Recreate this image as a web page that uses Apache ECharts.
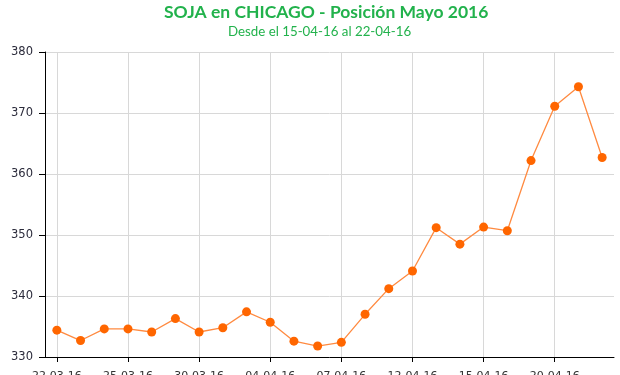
<!DOCTYPE html>
<html>
<head>
<meta charset="utf-8">
<script src="https://cdn.jsdelivr.net/npm/echarts@6/dist/echarts.min.js"></script>
<style>html,body{margin:0;padding:0;background:#fff}#c{width:620px;height:375px}</style>
</head>
<body>
<div id="c"></div>
<script>
const titleText = 'SOJA en CHICAGO - Posición Mayo 2016';
const subtitleText = 'Desde el 15-04-16 al 22-04-16';
const dates = ['22-03-16','23-03-16','24-03-16','25-03-16','28-03-16','29-03-16','30-03-16','31-03-16',
  '01-04-16','04-04-16','05-04-16','06-04-16','07-04-16','08-04-16','11-04-16','12-04-16',
  '13-04-16','14-04-16','15-04-16','18-04-16','19-04-16','20-04-16','21-04-16','22-04-16'];
const prices = [334.4, 332.7, 334.6, 334.6, 334.1, 336.3, 334.1, 334.8, 337.4, 335.7, 332.6, 331.8,
  332.4, 337.0, 341.2, 344.1, 351.2, 348.5, 351.3, 350.7, 362.2, 371.1, 374.3, 362.7];
const yMin = 330, yMax = 380, yStep = 10;

const chart = echarts.init(document.getElementById('c'), null, {renderer: 'canvas'});
chart.setOption({
  animation: false,
  backgroundColor: '#fff',
  title: [
    {text: titleText, left: 162, top: 1, padding: 2,
     textStyle: {fontFamily: 'Lato', fontWeight: 'bold', fontSize: 17.5, color: '#22b24c'}},
    {text: subtitleText, left: 226, top: 23, padding: 2,
     textStyle: {fontFamily: 'Lato', fontWeight: 'normal', fontSize: 13.3, color: '#22b24c'}}
  ],
  grid: {left: 45, right: 6, top: 52, bottom: 18, containLabel: false, outerBoundsMode: 'none'},
  xAxis: {
    type: 'category', data: dates, boundaryGap: true,
    axisLine: {show: true, lineStyle: {color: '#000', width: 1}},
    axisTick: {show: true, alignWithLabel: true, interval: 2, length: 5, lineStyle: {color: '#000'}},
    axisLabel: {interval: 2, margin: 14, fontFamily: 'DejaVu Sans', fontSize: 11, color: '#333'},
    splitLine: {show: true, alignWithLabel: true, interval: 2, lineStyle: {color: '#d8d8d8', width: 1}}
  },
  yAxis: {
    type: 'value', min: yMin, max: yMax, interval: yStep,
    axisLine: {show: true, lineStyle: {color: '#000', width: 1}},
    axisTick: {show: true, length: 6, lineStyle: {color: '#000'}},
    axisLabel: {margin: 12, fontFamily: 'DejaVu Sans', fontSize: 11.5, color: '#2b2b3b'},
    splitLine: {show: true, lineStyle: {color: '#d8d8d8', width: 1}}
  },
  series: [{
    type: 'line', data: prices,
    symbol: 'circle', symbolSize: 9,
    itemStyle: {color: '#ff6600'},
    lineStyle: {color: '#ff8a40', width: 1.3}
  }]
});
</script>
</body>
</html>
